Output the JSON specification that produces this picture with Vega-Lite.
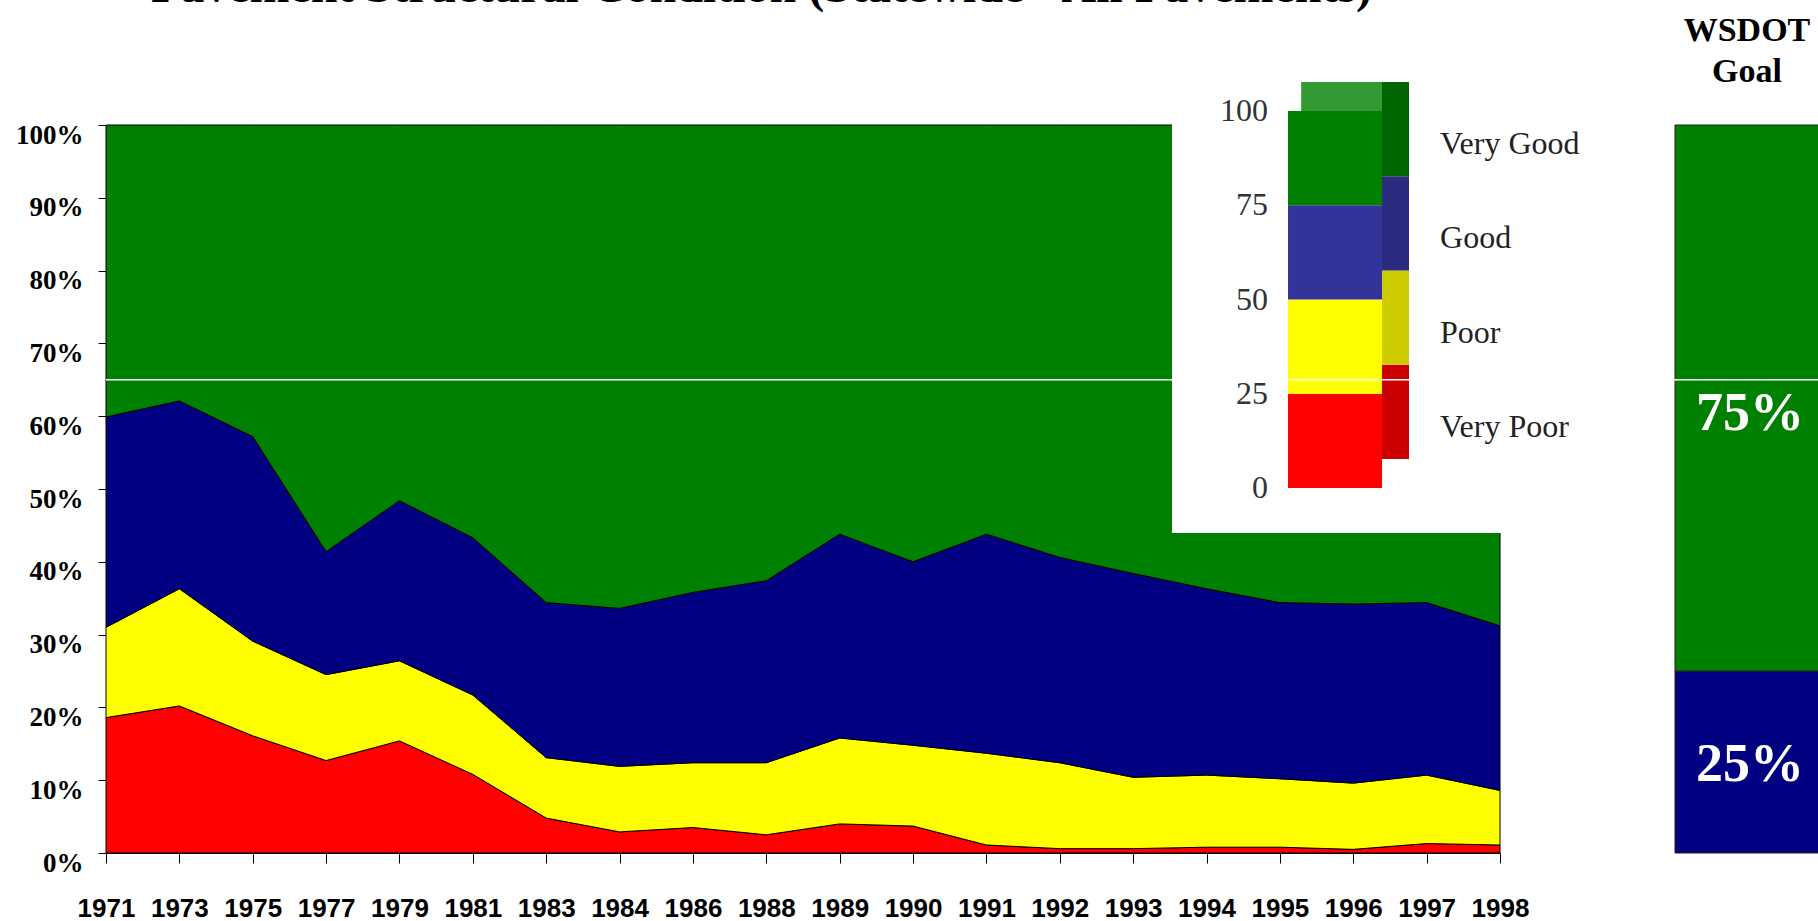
{
  "$schema": "https://vega.github.io/schema/vega-lite/v6.json",
  "width": 1394,
  "height": 728,
  "autosize": {"type": "none"},
  "padding": {"left": 106, "top": 125, "right": 318, "bottom": 68},
  "background": "white",
  "config": {"view": {"stroke": null}},
  "datasets": {
    "pavement": [
      {"year": 1971, "cond": "Very Poor", "share": 0.186}, {"year": 1971, "cond": "Poor", "share": 0.124}, {"year": 1971, "cond": "Good", "share": 0.289}, {"year": 1971, "cond": "Very Good", "share": 0.401},
      {"year": 1973, "cond": "Very Poor", "share": 0.202}, {"year": 1973, "cond": "Poor", "share": 0.161}, {"year": 1973, "cond": "Good", "share": 0.258}, {"year": 1973, "cond": "Very Good", "share": 0.379},
      {"year": 1975, "cond": "Very Poor", "share": 0.161}, {"year": 1975, "cond": "Poor", "share": 0.130}, {"year": 1975, "cond": "Good", "share": 0.281}, {"year": 1975, "cond": "Very Good", "share": 0.428},
      {"year": 1977, "cond": "Very Poor", "share": 0.127}, {"year": 1977, "cond": "Poor", "share": 0.118}, {"year": 1977, "cond": "Good", "share": 0.169}, {"year": 1977, "cond": "Very Good", "share": 0.586},
      {"year": 1979, "cond": "Very Poor", "share": 0.154}, {"year": 1979, "cond": "Poor", "share": 0.110}, {"year": 1979, "cond": "Good", "share": 0.220}, {"year": 1979, "cond": "Very Good", "share": 0.516},
      {"year": 1981, "cond": "Very Poor", "share": 0.108}, {"year": 1981, "cond": "Poor", "share": 0.109}, {"year": 1981, "cond": "Good", "share": 0.216}, {"year": 1981, "cond": "Very Good", "share": 0.567},
      {"year": 1983, "cond": "Very Poor", "share": 0.048}, {"year": 1983, "cond": "Poor", "share": 0.083}, {"year": 1983, "cond": "Good", "share": 0.213}, {"year": 1983, "cond": "Very Good", "share": 0.656},
      {"year": 1984, "cond": "Very Poor", "share": 0.029}, {"year": 1984, "cond": "Poor", "share": 0.090}, {"year": 1984, "cond": "Good", "share": 0.217}, {"year": 1984, "cond": "Very Good", "share": 0.664},
      {"year": 1986, "cond": "Very Poor", "share": 0.035}, {"year": 1986, "cond": "Poor", "share": 0.089}, {"year": 1986, "cond": "Good", "share": 0.234}, {"year": 1986, "cond": "Very Good", "share": 0.642},
      {"year": 1988, "cond": "Very Poor", "share": 0.025}, {"year": 1988, "cond": "Poor", "share": 0.099}, {"year": 1988, "cond": "Good", "share": 0.250}, {"year": 1988, "cond": "Very Good", "share": 0.626},
      {"year": 1989, "cond": "Very Poor", "share": 0.040}, {"year": 1989, "cond": "Poor", "share": 0.118}, {"year": 1989, "cond": "Good", "share": 0.280}, {"year": 1989, "cond": "Very Good", "share": 0.562},
      {"year": 1990, "cond": "Very Poor", "share": 0.037}, {"year": 1990, "cond": "Poor", "share": 0.111}, {"year": 1990, "cond": "Good", "share": 0.252}, {"year": 1990, "cond": "Very Good", "share": 0.600},
      {"year": 1991, "cond": "Very Poor", "share": 0.011}, {"year": 1991, "cond": "Poor", "share": 0.126}, {"year": 1991, "cond": "Good", "share": 0.301}, {"year": 1991, "cond": "Very Good", "share": 0.562},
      {"year": 1992, "cond": "Very Poor", "share": 0.006}, {"year": 1992, "cond": "Poor", "share": 0.118}, {"year": 1992, "cond": "Good", "share": 0.282}, {"year": 1992, "cond": "Very Good", "share": 0.594},
      {"year": 1993, "cond": "Very Poor", "share": 0.006}, {"year": 1993, "cond": "Poor", "share": 0.098}, {"year": 1993, "cond": "Good", "share": 0.280}, {"year": 1993, "cond": "Very Good", "share": 0.616},
      {"year": 1994, "cond": "Very Poor", "share": 0.008}, {"year": 1994, "cond": "Poor", "share": 0.099}, {"year": 1994, "cond": "Good", "share": 0.256}, {"year": 1994, "cond": "Very Good", "share": 0.637},
      {"year": 1995, "cond": "Very Poor", "share": 0.008}, {"year": 1995, "cond": "Poor", "share": 0.094}, {"year": 1995, "cond": "Good", "share": 0.242}, {"year": 1995, "cond": "Very Good", "share": 0.656},
      {"year": 1996, "cond": "Very Poor", "share": 0.005}, {"year": 1996, "cond": "Poor", "share": 0.091}, {"year": 1996, "cond": "Good", "share": 0.246}, {"year": 1996, "cond": "Very Good", "share": 0.658},
      {"year": 1997, "cond": "Very Poor", "share": 0.013}, {"year": 1997, "cond": "Poor", "share": 0.094}, {"year": 1997, "cond": "Good", "share": 0.237}, {"year": 1997, "cond": "Very Good", "share": 0.656},
      {"year": 1998, "cond": "Very Poor", "share": 0.011}, {"year": 1998, "cond": "Poor", "share": 0.075}, {"year": 1998, "cond": "Good", "share": 0.226}, {"year": 1998, "cond": "Very Good", "share": 0.688}
    ],
    "legendScale": [
      {"cond": "Very Poor", "lo": 0, "hi": 25},
      {"cond": "Poor", "lo": 25, "hi": 50},
      {"cond": "Good", "lo": 50, "hi": 75},
      {"cond": "Very Good", "lo": 75, "hi": 100}
    ],
    "legendTicks": [{"tick": 0}, {"tick": 25}, {"tick": 50}, {"tick": 75}, {"tick": 100}],
    "goal": [
      {"cond": "Good", "goal": 0.25, "lo": 0, "hi": 0.25},
      {"cond": "Very Good", "goal": 0.75, "lo": 0.25, "hi": 1}
    ]
  },
  "layer": [
    {
      "data": {"name": "pavement"},
      "transform": [{"calculate": "indexof(['Very Poor','Poor','Good','Very Good'], datum.cond)", "as": "rank"}],
      "mark": {"type": "area", "stroke": "#000000", "strokeWidth": 1, "opacity": 1},
      "encoding": {
        "x": {
          "field": "year", "type": "ordinal", "sort": "ascending",
          "scale": {"type": "point", "padding": 0},
          "axis": {"title": null, "labelAngle": 0, "labelFont": "Liberation Sans", "labelFontWeight": "bold", "labelFontSize": 26, "labelColor": "#000000", "tickSize": 10, "tickColor": "#000000", "domainColor": "#000000", "labelPadding": 32, "grid": false, "labelOverlap": false}
        },
        "y": {
          "field": "share", "type": "quantitative", "stack": "zero",
          "scale": {"domain": [0, 1], "nice": false, "zero": false},
          "axis": {"title": null, "values": [0, 0.1, 0.2, 0.3, 0.4, 0.5, 0.6, 0.7, 0.8, 0.9, 1], "format": ".0%", "grid": false, "labelFont": "Liberation Serif", "labelFontWeight": "bold", "labelFontSize": 27, "labelColor": "#000000", "tickSize": 8, "tickColor": "#000000", "domainColor": "#000000", "labelPadding": 15, "labelOffset": 10}
        },
        "color": {
          "field": "cond", "type": "nominal",
          "scale": {"domain": ["Very Poor", "Poor", "Good", "Very Good"], "range": ["#ff0000", "#ffff00", "#000080", "#008000"]},
          "legend": null
        },
        "order": {"field": "rank", "type": "quantitative"}
      }
    },
    {
      "layer": [
        {
          "data": {"values": [{}]},
          "mark": {"type": "rect", "fill": "#ffffff"},
          "encoding": {
            "x": {"datum": -1.234, "type": "quantitative", "scale": {"domain": [-12.574, 2.255], "nice": false, "zero": false}, "axis": null},
            "x2": {"datum": 2.6},
            "y": {"datum": -11.9, "type": "quantitative", "scale": {"domain": [-96.8, 96.3], "nice": false, "zero": false}, "axis": null},
            "y2": {"datum": 125}
          }
        },
        {
          "data": {"values": [{}]},
          "mark": {"type": "rect", "fill": "#339933"},
          "encoding": {
            "x": {"datum": 0.14, "type": "quantitative", "scale": {"domain": [-12.574, 2.255], "nice": false, "zero": false}, "axis": null},
            "x2": {"datum": 1.15},
            "y": {"datum": 100, "type": "quantitative", "scale": {"domain": [-96.8, 96.3], "nice": false, "zero": false}, "axis": null},
            "y2": {"datum": 107.7}
          }
        },
        {
          "data": {"name": "legendScale"},
          "mark": {"type": "rect", "yOffset": -29, "y2Offset": -29},
          "encoding": {
            "x": {"datum": 1, "type": "quantitative", "scale": {"domain": [-12.574, 2.255], "nice": false, "zero": false}, "axis": null},
            "x2": {"datum": 1.287},
            "y": {"field": "lo", "type": "quantitative", "scale": {"domain": [-96.8, 96.3], "nice": false, "zero": false}, "axis": null},
            "y2": {"field": "hi"},
            "fill": {"field": "cond", "type": "nominal", "scale": {"domain": ["Very Poor", "Poor", "Good", "Very Good"], "range": ["#cc0000", "#cccc00", "#2a2a80", "#006400"]}, "legend": null}
          }
        },
        {
          "data": {"name": "legendScale"},
          "mark": {"type": "rect"},
          "encoding": {
            "x": {"datum": 0, "type": "quantitative", "scale": {"domain": [-12.574, 2.255], "nice": false, "zero": false}, "axis": null},
            "x2": {"datum": 1},
            "y": {"field": "lo", "type": "quantitative", "scale": {"domain": [-96.8, 96.3], "nice": false, "zero": false}, "axis": null},
            "y2": {"field": "hi"},
            "color": {"field": "cond", "type": "nominal", "scale": {"domain": ["Very Poor", "Poor", "Good", "Very Good"], "range": ["#ff0000", "#ffff00", "#333399", "#008000"]}, "legend": null}
          }
        },
        {
          "data": {"name": "legendTicks"},
          "mark": {"type": "text", "align": "right", "baseline": "middle", "font": "Liberation Serif", "fontSize": 32, "color": "#333333"},
          "encoding": {
            "x": {"datum": -0.213, "type": "quantitative", "scale": {"domain": [-12.574, 2.255], "nice": false, "zero": false}, "axis": null},
            "y": {"field": "tick", "type": "quantitative", "scale": {"domain": [-96.8, 96.3], "nice": false, "zero": false}, "axis": null},
            "text": {"field": "tick", "type": "quantitative", "format": "d"}
          }
        },
        {
          "data": {"name": "legendScale"},
          "mark": {"type": "text", "align": "left", "baseline": "middle", "dy": 33, "font": "Liberation Serif", "fontSize": 32, "color": "#222222"},
          "encoding": {
            "x": {"datum": 1.617, "type": "quantitative", "scale": {"domain": [-12.574, 2.255], "nice": false, "zero": false}, "axis": null},
            "y": {"field": "hi", "type": "quantitative", "scale": {"domain": [-96.8, 96.3], "nice": false, "zero": false}, "axis": null},
            "text": {"field": "cond", "type": "nominal"}
          }
        }
      ]
    },
    {
      "layer": [
        {
          "data": {"name": "goal"},
          "mark": {"type": "rect", "stroke": "#222222", "strokeWidth": 1},
          "encoding": {
            "x": {"datum": 0, "type": "quantitative", "scale": {"domain": [-10.46, -1.1667], "nice": false, "zero": false}, "axis": null},
            "x2": {"datum": 1},
            "y": {"field": "lo", "type": "quantitative", "scale": {"domain": [0, 1], "nice": false, "zero": false}, "axis": null},
            "y2": {"field": "hi"},
            "color": {"field": "cond", "type": "nominal", "scale": {"domain": ["Good", "Very Good"], "range": ["#000080", "#008000"]}, "legend": null}
          }
        },
        {
          "data": {"name": "goal"},
          "transform": [{"filter": "datum.cond == 'Very Good'"}],
          "mark": {"type": "text", "align": "center", "baseline": "middle", "font": "Liberation Serif", "fontWeight": "bold", "fontSize": 54, "color": "#ffffff"},
          "encoding": {
            "x": {"datum": 0.5, "type": "quantitative", "scale": {"domain": [-10.46, -1.1667], "nice": false, "zero": false}, "axis": null},
            "y": {"datum": 0.603, "type": "quantitative", "scale": {"domain": [0, 1], "nice": false, "zero": false}, "axis": null},
            "text": {"field": "goal", "type": "quantitative", "format": ".0%"}
          }
        },
        {
          "data": {"name": "goal"},
          "transform": [{"filter": "datum.cond == 'Good'"}],
          "mark": {"type": "text", "align": "center", "baseline": "middle", "font": "Liberation Serif", "fontWeight": "bold", "fontSize": 54, "color": "#ffffff"},
          "encoding": {
            "x": {"datum": 0.5, "type": "quantitative", "scale": {"domain": [-10.46, -1.1667], "nice": false, "zero": false}, "axis": null},
            "y": {"datum": 0.121, "type": "quantitative", "scale": {"domain": [0, 1], "nice": false, "zero": false}, "axis": null},
            "text": {"field": "goal", "type": "quantitative", "format": ".0%"}
          }
        },
        {
          "data": {"values": [{}]},
          "mark": {"type": "text", "align": "center", "baseline": "middle", "font": "Liberation Serif", "fontWeight": "bold", "fontSize": 34, "color": "#000000"},
          "encoding": {
            "x": {"datum": 0.48, "type": "quantitative", "scale": {"domain": [-10.46, -1.1667], "nice": false, "zero": false}, "axis": null},
            "y": {"datum": 1.129, "type": "quantitative", "scale": {"domain": [0, 1], "nice": false, "zero": false}, "axis": null},
            "text": {"value": "WSDOT"}
          }
        },
        {
          "data": {"values": [{}]},
          "mark": {"type": "text", "align": "center", "baseline": "middle", "font": "Liberation Serif", "fontWeight": "bold", "fontSize": 34, "color": "#000000"},
          "encoding": {
            "x": {"datum": 0.48, "type": "quantitative", "scale": {"domain": [-10.46, -1.1667], "nice": false, "zero": false}, "axis": null},
            "y": {"datum": 1.073, "type": "quantitative", "scale": {"domain": [0, 1], "nice": false, "zero": false}, "axis": null},
            "text": {"value": "Goal"}
          }
        },
        {
          "data": {"values": [{}]},
          "mark": {"type": "text", "align": "center", "baseline": "alphabetic", "font": "Liberation Serif", "fontWeight": "bold", "fontSize": 48, "color": "#000000"},
          "encoding": {
            "x": {"datum": -6.09, "type": "quantitative", "scale": {"domain": [-10.46, -1.1667], "nice": false, "zero": false}, "axis": null},
            "y": {"datum": 1.169, "type": "quantitative", "scale": {"domain": [0, 1], "nice": false, "zero": false}, "axis": null},
            "text": {"value": "Pavement Structural Condition (Statewide - All Pavements)"}
          }
        },
        {
          "data": {"values": [{}]},
          "mark": {"type": "rule", "color": "#ffffff", "strokeWidth": 1.5},
          "encoding": {
            "x": {"datum": -10.46, "type": "quantitative", "scale": {"domain": [-10.46, -1.1667], "nice": false, "zero": false}, "axis": null},
            "x2": {"datum": 1.0},
            "y": {"datum": 0.65, "type": "quantitative", "scale": {"domain": [0, 1], "nice": false, "zero": false}, "axis": null}
          }
        }
      ]
    }
  ],
  "resolve": {
    "scale": {"x": "independent", "y": "independent", "color": "independent", "fill": "independent"},
    "axis": {"x": "independent", "y": "independent"}
  }
}
